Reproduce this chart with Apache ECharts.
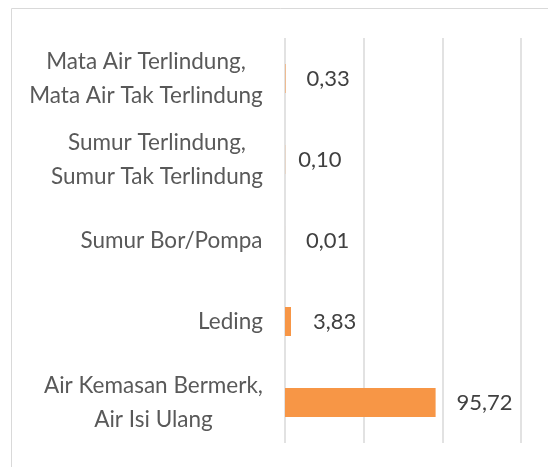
<!DOCTYPE html>
<html>
<head>
<meta charset="utf-8">
<script src="https://cdn.jsdelivr.net/npm/echarts@6/dist/echarts.min.js"></script>
<style>
  html, body { margin: 0; padding: 0; background: #fff; }
  #main { width: 548px; height: 467px; }
</style>
</head>
<body>
<div id="main"></div>
<script>
// data
var categories = [
  'Mata Air Terlindung,\nMata Air Tak Terlindung',
  'Sumur Terlindung,\nSumur Tak Terlindung',
  'Sumur Bor/Pompa',
  'Leding',
  'Air Kemasan Bermerk,\nAir Isi Ulang'
];
var values = [0.33, 0.10, 0.01, 3.83, 95.72];
var xTicks = [0, 50, 100, 150];

var FONT = 'Lato';
var catSize = 22.5;
var valSize = 22;

// measure lines so multi-line labels are centred line by line
var ctx = document.createElement('canvas').getContext('2d');
ctx.font = catSize + 'px ' + FONT;
var rich = {};
categories.forEach(function (c, i) {
  var w = 0;
  c.split('\n').forEach(function (l) { w = Math.max(w, ctx.measureText(l).width); });
  rich['c' + i] = { width: Math.ceil(w), align: 'center', fontSize: catSize, lineHeight: 34, color: '#595959', fontFamily: FONT };
});

var labelDist = [21, 13, 21, 22, 21];

var chart = echarts.init(document.getElementById('main'));

var option = {
  animation: false,
  textStyle: { fontFamily: FONT },
  graphic: [{
    type: 'rect',
    shape: { x: 11.5, y: 8.5, width: 600, height: 600 },
    style: { fill: 'none', stroke: '#d9d9d9', lineWidth: 1 }
  }],
  grid: { left: 285, right: 27, top: 38, bottom: 24 },
  xAxis: {
    type: 'value',
    min: xTicks[0],
    max: xTicks[xTicks.length - 1],
    interval: 50,
    axisLabel: { show: false },
    axisLine: { show: false },
    axisTick: { show: false },
    splitLine: { show: true, lineStyle: { color: '#d9d9d9', width: 1.5 } }
  },
  yAxis: {
    type: 'category',
    inverse: true,
    data: categories,
    axisLine: { show: false },
    axisTick: { show: false },
    axisLabel: {
      margin: 22,
      align: 'right',
      formatter: function (v) {
        var i = categories.indexOf(v);
        return v.split('\n').map(function (l) { return '{c' + i + '|' + l + '}'; }).join('\n');
      },
      rich: rich
    }
  },
  series: [{
    type: 'bar',
    barWidth: 29,
    itemStyle: { color: '#F79646' },
    data: values.map(function (v, i) {
      return {
        value: v,
        label: { distance: labelDist[i] }
      };
    }),
    label: {
      show: true,
      position: 'right',
      color: '#404040',
      fontSize: valSize,
      fontFamily: FONT,
      formatter: function (p) { return p.value.toFixed(2).replace('.', ','); }
    }
  }]
};

chart.setOption(option);
</script>
</body>
</html>
